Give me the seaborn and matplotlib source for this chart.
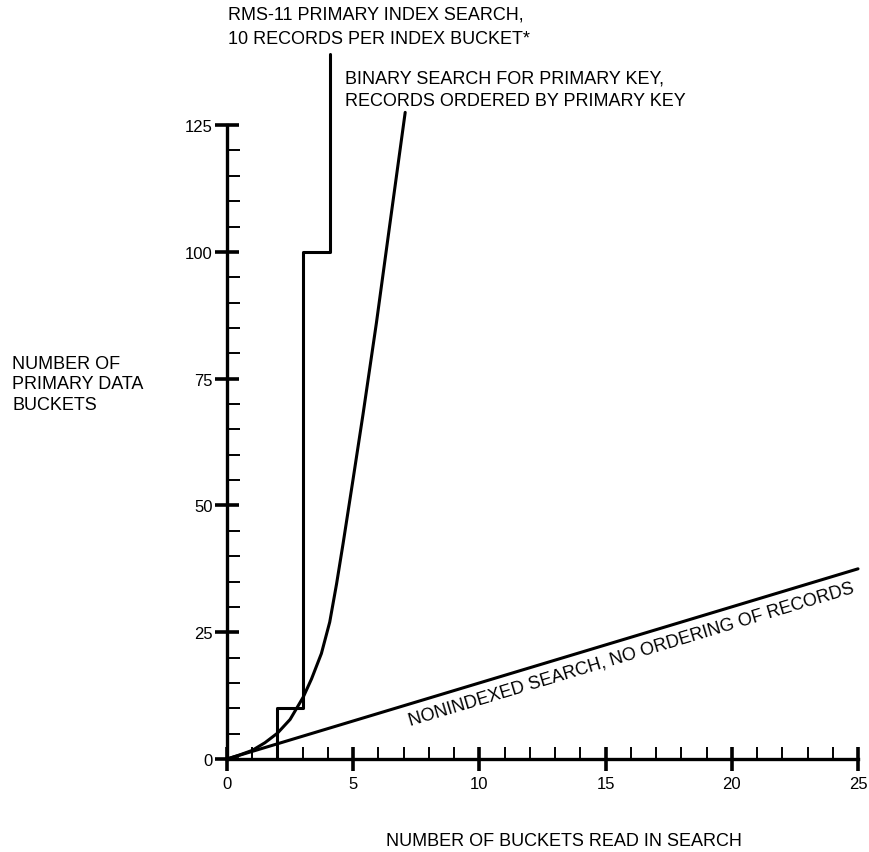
import matplotlib
matplotlib.use("Agg")
import matplotlib.pyplot as plt
import seaborn as sns
import pandas as pd
from matplotlib.ticker import FixedLocator

# curves (x = buckets read, y = primary data buckets)
binary_reads = [0, 0.5, 1, 1.5, 2, 2.5, 3.02, 3.35, 3.74, 4.07, 4.34, 4.6, 4.99, 5.39, 5.92, 6.44, 7.06]
binary_buckets = [0, 0.8, 1.7, 3.2, 5.1, 7.8, 12.2, 15.8, 20.8, 27.0, 34.5, 42.5, 55.0, 68.0, 86.0, 105.0, 127.5]

rms_reads = [2, 2, 3, 3, 4.1, 4.1]
rms_buckets = [0, 10, 10, 100, 100, 139]

nonindexed_reads = [0, 25]
nonindexed_buckets = [0, 37.5]

x_ticks = [0, 5, 10, 15, 20, 25]
x_minor = list(range(0, 26))
y_ticks = [0, 25, 50, 75, 100, 125]
y_minor = list(range(0, 126, 5))

sns.set_style("ticks")
plt.rcParams["font.family"] = ["Liberation Sans", "DejaVu Sans"]
plt.rcParams["text.color"] = "black"

W, H = 869, 853


def fpos(px, py):
    return px / W, 1 - py / H


fig = plt.figure(figsize=(W / 100, H / 100), dpi=100)
ax = fig.add_axes([227 / W, 1 - 760 / H, (858 - 227) / W, (760 - 50) / H])

series = [
    (binary_reads, binary_buckets),
    (rms_reads, rms_buckets),
    (nonindexed_reads, nonindexed_buckets),
]
for xs, ys in series:
    df = pd.DataFrame({"reads": xs, "buckets": ys})
    sns.lineplot(data=df, x="reads", y="buckets", sort=False, estimator=None,
                 color="black", linewidth=2.2, ax=ax, clip_on=False)

ax.set_xlim(0, 25)
ax.set_ylim(0, 140)
ax.set_xticks(x_ticks)
ax.set_yticks(y_ticks)
ax.xaxis.set_minor_locator(FixedLocator([v for v in x_minor if v not in x_ticks]))
ax.yaxis.set_minor_locator(FixedLocator([v for v in y_minor if v not in y_ticks]))
ax.set_xlabel("")
ax.set_ylabel("")

sns.despine(ax=ax)
ax.spines["left"].set_bounds(0, 125)
ax.spines["bottom"].set_bounds(0, 25)
for s in ["left", "bottom"]:
    ax.spines[s].set_linewidth(2.4)
    ax.spines[s].set_color("black")

ax.tick_params(which="major", direction="inout", length=17, width=2.6,
               labelsize=12, colors="black")
ax.tick_params(axis="y", which="major", pad=2)
ax.tick_params(axis="x", which="major", pad=4)
ax.tick_params(which="minor", direction="in", length=9, width=1.4, colors="black")

# annotations
fs = 13
fig.text(*fpos(228, 15), "RMS-11 PRIMARY INDEX SEARCH,", fontsize=fs, va="center", ha="left")
fig.text(*fpos(228, 40), "10 RECORDS PER INDEX BUCKET*", fontsize=fs, va="center", ha="left")
fig.text(*fpos(345, 79), "BINARY SEARCH FOR PRIMARY KEY,", fontsize=fs, va="center", ha="left")
fig.text(*fpos(345, 102), "RECORDS ORDERED BY PRIMARY KEY", fontsize=fs, va="center", ha="left")

fig.text(*fpos(12, 385), "NUMBER OF\nPRIMARY DATA\nBUCKETS", fontsize=fs, va="center",
         ha="left", linespacing=1.3)
fig.text(*fpos(564, 842), "NUMBER OF BUCKETS READ IN SEARCH", fontsize=fs, va="center", ha="center")

ax.text(16.0, 20.8, "NONINDEXED SEARCH, NO ORDERING OF RECORDS", fontsize=fs,
        rotation=16.7, rotation_mode="anchor", ha="center", va="center")

fig.savefig("out.png", dpi=100)
